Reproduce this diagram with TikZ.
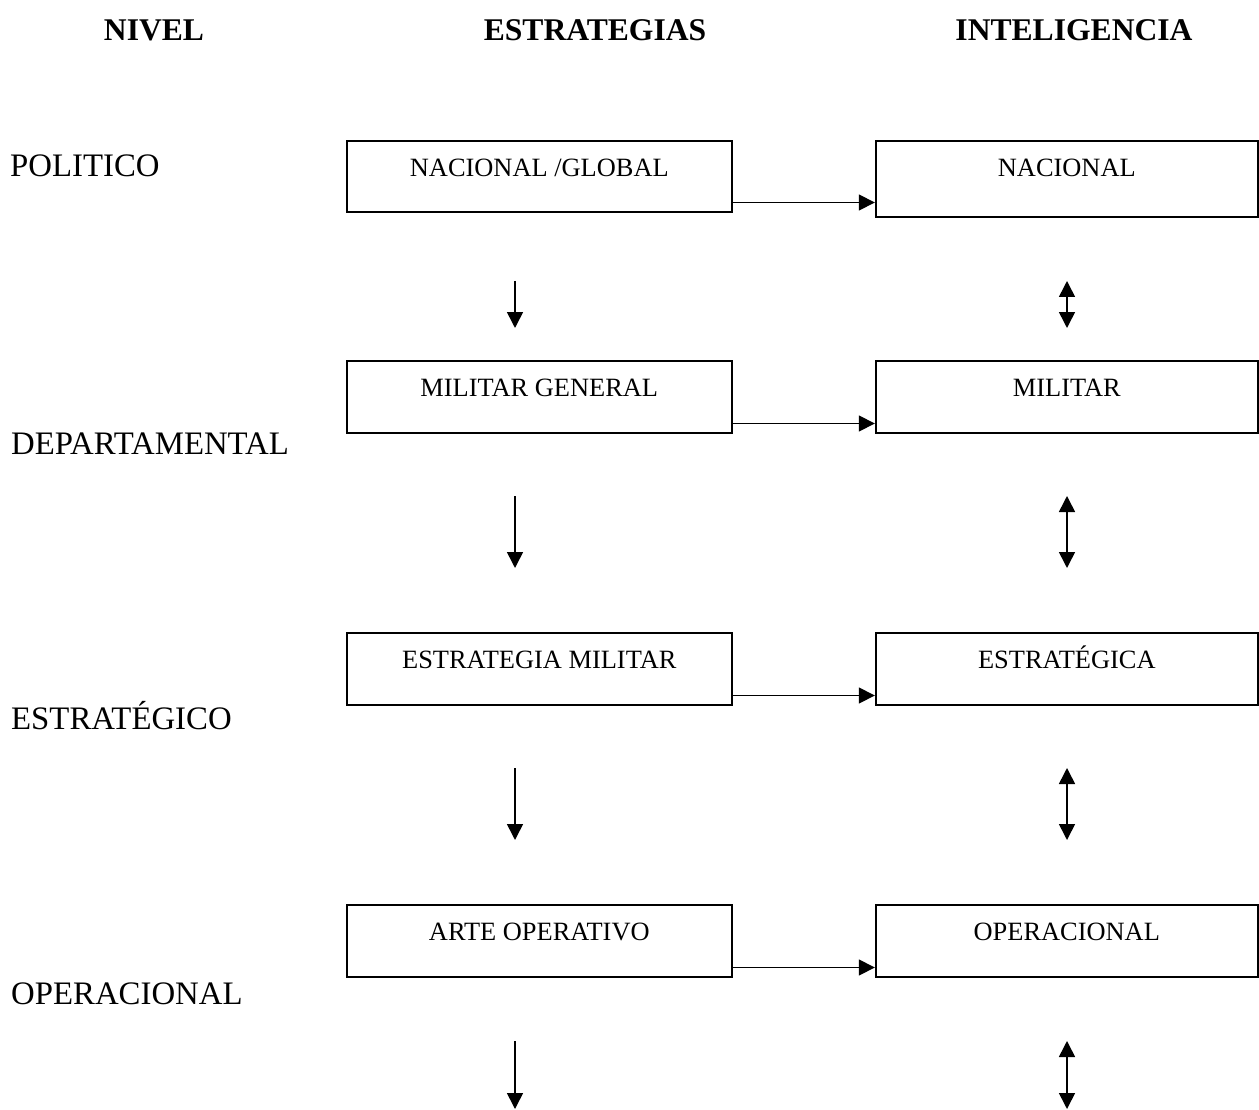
\documentclass[tikz,border=0pt]{standalone}
\usepackage{fontspec}
\setmainfont{Liberation Serif}
\usetikzlibrary{positioning,arrows.meta}

\begin{document}
\begin{tikzpicture}[x=1pt,y=-1pt,
	caja/.style={draw,line width=2pt,rectangle,inner sep=0pt,text height=35.7pt,text depth=35.8pt,font=\fontsize{26.4}{30}\selectfont},
	flecha/.style={line width=1.6pt,-{Triangle[length=16pt,width=16pt]}},
	doble/.style={line width=1.6pt,{Triangle[length=16pt,width=16pt]}-{Triangle[length=16pt,width=16pt]}},
	nivel/.style={anchor=base west,inner sep=0pt,font=\fontsize{32.8}{38}\selectfont},
	titulo/.style={anchor=base,inner sep=0pt,font=\fontsize{31.6}{36}\selectfont\bfseries}]
		
		\useasboundingbox (0,0) rectangle (1259,1110);
		
		% titulos
		\node[titulo] (tnivel) at (154,41) {NIVEL};
		\node[titulo] (testr) at (595,41) {ESTRATEGIAS};
		\node[titulo] (tintel) at (1074,41) {INTELIGENCIA};
		
		% niveles
		\node[nivel] (politico) at (10,177) {POLITICO};
		\node[nivel] (depto) at (11,454) {DEPARTAMENTAL};
		\node[nivel] (estrat) at (11,729) {ESTRATÉGICO};
		\node[nivel] (operac) at (11,1004) {OPERACIONAL};
		
		% estrategias
		\node[caja,minimum width=384.7pt] (estr1) at (539.3,176.75) {NACIONAL /GLOBAL};
		\node[caja,minimum width=384.7pt] (estr2) at (539.3,396.75) {MILITAR GENERAL};
		\node[caja,minimum width=384.7pt] (estr3) at (539.3,668.75) {ESTRATEGIA MILITAR};
		\node[caja,minimum width=384.7pt] (estr4) at (539.3,940.75) {ARTE OPERATIVO};
		
		% inteligencia
		\node[caja,minimum width=382pt,text depth=40.3pt] (intel1) at (1066.8,179) {NACIONAL};
		\node[caja,minimum width=382pt] (intel2) at (1066.8,396.75) {MILITAR};
		\node[caja,minimum width=382pt] (intel3) at (1066.8,668.75) {ESTRATÉGICA};
		\node[caja,minimum width=382pt] (intel4) at (1066.8,940.75) {OPERACIONAL};
		
		% flechas horizontales
		\coordinate (h1) at ([yshift=11pt]estr1.south east);
		\coordinate (h2) at ([yshift=10pt]estr2.south east);
		\coordinate (h3) at ([yshift=10pt]estr3.south east);
		\coordinate (h4) at ([yshift=10pt]estr4.south east);
		\draw[flecha] (h1) -- (h1 -| intel1.west);
		\draw[flecha] (h2) -- (h2 -| intel2.west);
		\draw[flecha] (h3) -- (h3 -| intel3.west);
		\draw[flecha] (h4) -- (h4 -| intel4.west);
		
		% flechas verticales
		\coordinate (e1a) at (515,281);  \coordinate (e1b) at (515,328);
		\coordinate (e2a) at (515,496);  \coordinate (e2b) at (515,568);
		\coordinate (e3a) at (515,768);  \coordinate (e3b) at (515,840);
		\coordinate (e4a) at (515,1041); \coordinate (e4b) at (515,1109);
		\draw[flecha] (e1a) -- (e1b);
		\draw[flecha] (e2a) -- (e2b);
		\draw[flecha] (e3a) -- (e3b);
		\draw[flecha] (e4a) -- (e4b);
		
		\coordinate (i1a) at (1067,281);  \coordinate (i1b) at (1067,328);
		\coordinate (i2a) at (1067,496);  \coordinate (i2b) at (1067,568);
		\coordinate (i3a) at (1067,768);  \coordinate (i3b) at (1067,840);
		\coordinate (i4a) at (1067,1041); \coordinate (i4b) at (1067,1109);
		\draw[doble] (i1a) -- (i1b);
		\draw[doble] (i2a) -- (i2b);
		\draw[doble] (i3a) -- (i3b);
		\draw[doble] (i4a) -- (i4b);
		
	\end{tikzpicture}
\end{document}
